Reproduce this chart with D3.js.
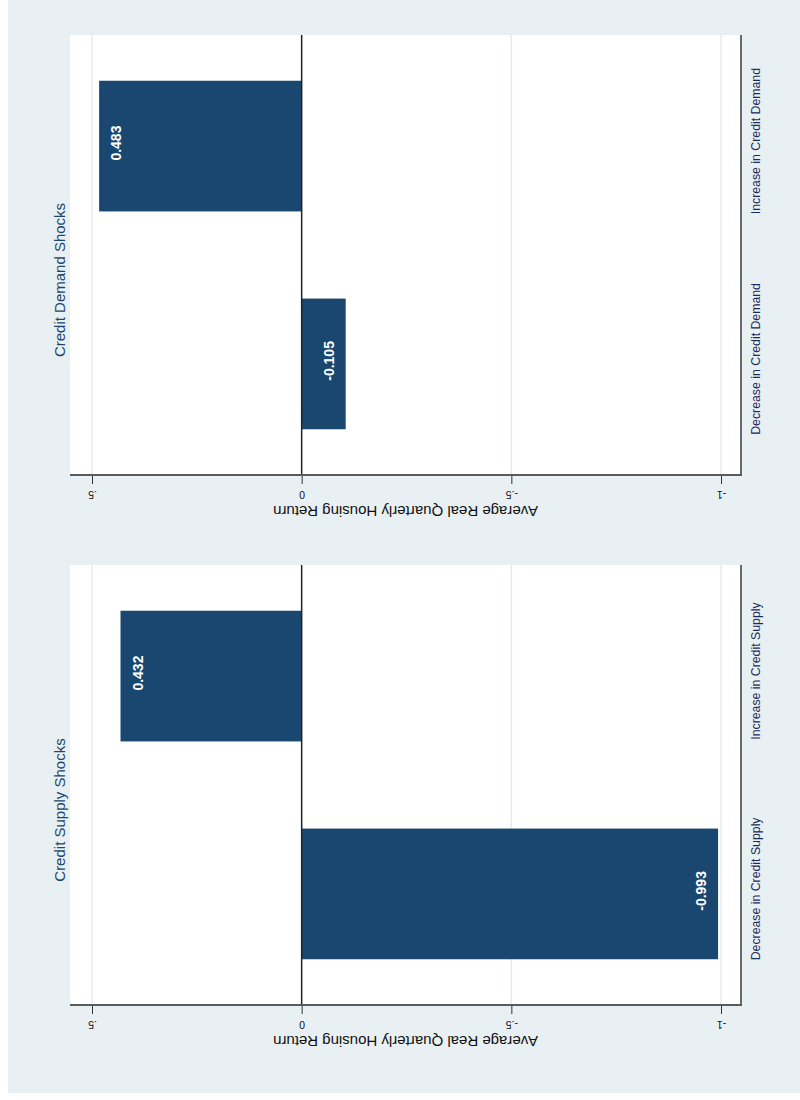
<!DOCTYPE html>
<html>
<head>
<meta charset="utf-8">
<script src="https://cdn.jsdelivr.net/npm/d3@7"></script>
<style>
  html, body { margin: 0; padding: 0; background: #ffffff; }
  svg { display: block; }
  text { font-family: "Liberation Sans", Arial, Helvetica, sans-serif; }
</style>
</head>
<body>
<svg id="chart" width="800" height="1100"></svg>
<script>
// Average real quarterly housing return by type of credit shock
const demandCategories = ["Decrease in Credit Demand", "Increase in Credit Demand"];
const demandValues = [-0.105, 0.483];
const supplyCategories = ["Decrease in Credit Supply", "Increase in Credit Supply"];
const supplyValues = [-0.993, 0.432];
const panelTitles = ["Credit Demand Shocks", "Credit Supply Shocks"];
const tickValues = [0.5, 0, -0.5, -1];
const tickLabels = [".5", "0", "-.5", "-1"];
const axisTitle = "Average Real Quarterly Housing Return";

const BAR = "#1a476f";
const BG = "#e8f0f3";
const GRID = "#e4ecef";

const svg = d3.select("#chart");

// page background band
svg.append("rect").attr("x", 8).attr("y", 0).attr("width", 792).attr("height", 1093).attr("fill", BG);

const panels = [
  { title: panelTitles[0], cats: demandCategories, vals: demandValues, top: 35 },
  { title: panelTitles[1], cats: supplyCategories, vals: supplyValues, top: 565 }
];

const plotLeft = 70, plotRight = 741, plotH = 440;

// value scale runs horizontally: .5 on the left, -1 on the right
const x = d3.scaleLinear().domain([0.5, -1]).range([92, 721]);

panels.forEach(p => {
  const g = svg.append("g");
  const top = p.top, bottom = top + plotH;

  // plot region
  g.append("rect").attr("x", plotLeft).attr("y", top)
    .attr("width", plotRight - plotLeft).attr("height", plotH)
    .attr("fill", "#ffffff");

  // category scale runs vertically; first category sits at the bottom
  const y = d3.scaleBand().domain(p.cats).range([bottom, top])
    .paddingInner(0.4).paddingOuter(0.21);

  // grid lines
  g.selectAll("line.grid").data(tickValues.filter(v => v !== 0)).join("line")
    .attr("class", "grid")
    .attr("x1", d => x(d)).attr("x2", d => x(d))
    .attr("y1", top).attr("y2", bottom)
    .attr("stroke", GRID).attr("stroke-width", 1.5);

  // bars
  const data = p.cats.map((c, i) => ({ cat: c, val: p.vals[i] }));
  g.selectAll("rect.bar").data(data).join("rect")
    .attr("class", "bar")
    .attr("x", d => Math.min(x(d.val), x(0)))
    .attr("width", d => Math.abs(x(d.val) - x(0)))
    .attr("y", d => y(d.cat))
    .attr("height", y.bandwidth())
    .attr("fill", BAR);

  // value labels inside the bar ends
  g.selectAll("text.vlab").data(data).join("text")
    .attr("class", "vlab")
    .attr("transform", d => {
      const xe = x(d.val) + (d.val >= 0 ? 17 : -17);
      return `translate(${xe},${y(d.cat) + y.bandwidth() / 2 - 3}) rotate(-90)`;
    })
    .attr("text-anchor", "middle")
    .attr("dominant-baseline", "central")
    .attr("fill", "#ffffff")
    .attr("font-size", 14)
    .attr("font-weight", "bold")
    .text(d => d.val.toFixed(3));

  // zero line
  g.append("line").attr("x1", x(0)).attr("x2", x(0))
    .attr("y1", top).attr("y2", bottom)
    .attr("stroke", "#222").attr("stroke-width", 1.5);

  // value axis along the bottom
  const axis = g.append("g").attr("transform", `translate(0,${bottom})`)
    .call(d3.axisBottom(x).tickValues(tickValues).tickSize(9).tickPadding(0)
      .tickFormat((d, i) => tickLabels[i]));
  axis.select(".domain").remove();
  axis.selectAll(".tick line").attr("stroke", "#333").attr("stroke-width", 1);
  axis.selectAll(".tick text")
    .attr("y", 0).attr("dy", null)
    .attr("transform", "translate(0,20) rotate(180)")
    .attr("dominant-baseline", "central")
    .attr("font-size", 10.5).attr("fill", "#111");
  g.append("line").attr("x1", plotLeft).attr("x2", plotRight + 1)
    .attr("y1", bottom).attr("y2", bottom)
    .attr("stroke", "#5a5a5a").attr("stroke-width", 1.8);

  // category axis along the right edge
  g.append("line").attr("x1", plotRight).attr("x2", plotRight)
    .attr("y1", top).attr("y2", bottom)
    .attr("stroke", "#5a5a5a").attr("stroke-width", 1.8);
  g.selectAll("text.cat").data(p.cats).join("text")
    .attr("class", "cat")
    .attr("transform", d => `translate(756,${y(d) + y.bandwidth() / 2 - 5}) rotate(-90)`)
    .attr("text-anchor", "middle")
    .attr("dominant-baseline", "central")
    .attr("font-size", 12.3)
    .attr("fill", "#1a2a5a")
    .text(d => d);

  // axis title
  g.append("text")
    .attr("transform", `translate(${(plotLeft + plotRight) / 2},${bottom + 36}) rotate(180)`)
    .attr("text-anchor", "middle")
    .attr("dominant-baseline", "central")
    .attr("font-size", 15)
    .attr("fill", "#111")
    .text(axisTitle);

  // panel title
  g.append("text")
    .attr("transform", `translate(59,${top + 245}) rotate(-90)`)
    .attr("text-anchor", "middle")
    .attr("dominant-baseline", "central")
    .attr("font-size", 15)
    .attr("fill", "#1a476f")
    .text(p.title);
});
</script>
</body>
</html>
